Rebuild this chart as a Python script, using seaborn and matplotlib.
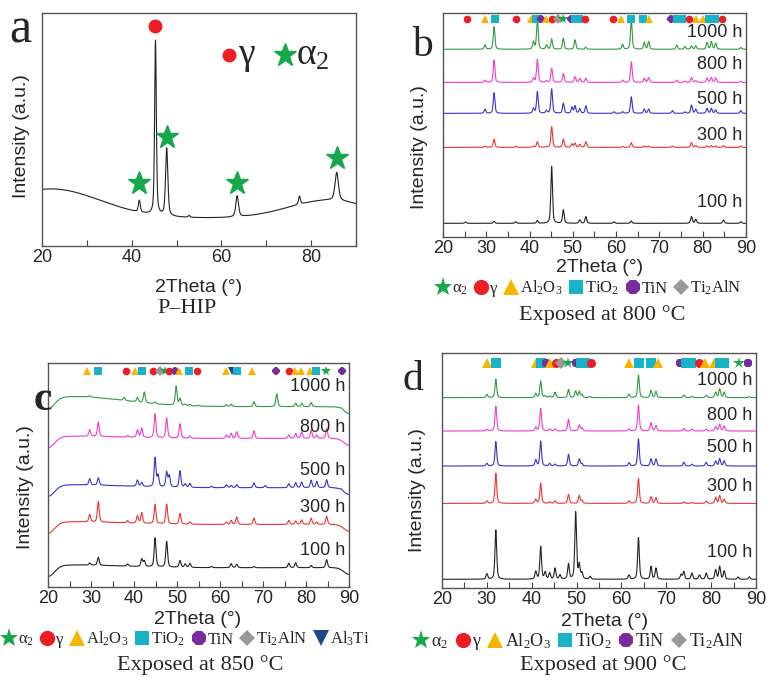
import numpy as np
import pandas as pd
import matplotlib
matplotlib.use('Agg')
import matplotlib.pyplot as plt
from matplotlib.lines import Line2D
import seaborn as sns

sns.set_style('ticks')
plt.rcParams['font.family'] = ['Liberation Sans', 'DejaVu Sans']
plt.rcParams['mathtext.fontset'] = 'custom'
plt.rcParams['mathtext.rm'] = 'Liberation Serif'
plt.rcParams['mathtext.it'] = 'Liberation Serif:italic'
SERIF = ['Liberation Serif', 'DejaVu Serif']

# ---------------- data ----------------
hours = ['1000 h', '800 h', '500 h', '300 h', '100 h']

# (a) P-HIP
a_pos = [41.7, 45.3, 47.8, 52.8, 63.5, 77.4, 85.7]
a_hgt = [5.0, 74.8, 29.0, 0.8, 9.0, 3.5, 12.0]
a_fwhm = [0.5, 0.45, 0.6, 0.5, 0.7, 0.5, 0.9]
a_bg_center = [22, 84]
a_bg_amp = [12.5, 7.7]
a_bg_sigma = [11, 9]
a_level = 12.0
a_gamma = [45.3]
a_alpha2 = [41.7, 47.8, 63.5, 85.7]

# (b) 800 C
b_pos = [25.2, 29.7, 31.8, 36.8, 40.9, 41.8, 43.9, 45.1, 47.8, 49.8, 50.5, 51.6, 53.0, 59.5,
         61.5, 63.5, 66.5, 67.5, 73.0, 74.0, 75.9, 77.4, 78.4, 81.0, 82.0, 83.0, 84.8, 88.8]
b_hgt = {
    '1000 h': [0, 1.9, 10.1, 0, 3.4, 13.0, 1.9, 4.6, 4.9, 0, 4.2, 0, 0.9, 0,
               2.2, 13.0, 3.0, 3.4, 0, 1.9, 1.2, 1.5, 1.5, 3.0, 3.4, 2.7, 0, 0.8],
    '800 h': [0, 1.0, 10.0, 0, 1.8, 10.3, 0.7, 6.3, 4.0, 0, 2.5, 1.8, 1.8, 0,
              1.0, 9.2, 1.8, 2.1, 0, 1.0, 0.6, 2.2, 0.8, 2.0, 2.2, 2.0, 0, 0.5],
    '500 h': [0, 1.8, 9.2, 0, 2.2, 9.7, 1.2, 10.9, 4.5, 2.7, 3.3, 2.0, 3.3, 0.7,
              0.7, 7.4, 1.9, 1.9, 1.2, 0, 0.6, 3.7, 1.8, 2.2, 2.2, 1.5, 0, 1.2],
    '300 h': [0, 0.6, 3.6, 0.5, 0.5, 2.5, 0.3, 9.2, 3.7, 1.5, 1.8, 1.3, 2.5, 0,
              0.4, 2.1, 0.6, 0.6, 0.6, 0, 0, 2.1, 0.8, 0.6, 0.8, 0.6, 0.8, 0.6],
    '100 h': [0.6, 0, 0.9, 0.7, 0, 1.2, 0, 25.3, 6.0, 0, 0, 1.5, 3.0, 0.7,
              0, 1.0, 0, 0, 0, 0, 0, 3.0, 1.8, 0, 0, 0, 1.5, 0.7],
}
b_level = [83.8, 69.0, 55.2, 40.0, 6.1]
b_marks = [(25.6, 'g'), (29.7, 'al2o3'), (31.9, 'tio2'), (36.9, 'g'), (40.3, 'al2o3'), (41.5, 'tio2'),
           (42.6, 'tin'), (43.7, 'al2o3'), (45.1, 'g'), (46.5, 'ti2aln'), (47.8, 'a2'), (49.5, 'tin'),
           (50.4, 'tio2'), (51.5, 'tio2'), (52.9, 'g'), (59.3, 'g'), (61.2, 'al2o3'), (63.4, 'tio2'),
           (66.3, 'tio2'), (67.6, 'al2o3'), (72.7, 'tin'), (74.1, 'tio2'), (75.3, 'tio2'), (76.9, 'g'),
           (78.4, 'al2o3'), (80.1, 'al2o3'), (81.5, 'tio2'), (82.8, 'tio2'), (84.5, 'g')]

# (c) 850 C
c_pos = [29.7, 31.7, 37.7, 38.5, 40.8, 41.8, 42.4, 44.9, 45.6, 47.6, 48.2, 49.8, 50.7, 51.9, 53.0,
         55.0, 58.0, 61.5, 62.6, 63.9, 67.9, 70.5, 73.2, 76.0, 77.6, 79.0, 81.2, 82.5, 84.8, 88.3]
c_hgt = {
    '1000 h': [0.6, 0, 1.3, 0, 2.0, 0, 4.8, 0.8, 0, 0, 0, 8.5, 3.0, 0.6, 0.6,
               0.4, 0, 0.8, 1.0, 0, 2.2, 0, 5.7, 0, 1.5, 1.5, 1.8, 0, 0, 0.5],
    '800 h': [3.0, 6.4, 0, 0.7, 3.3, 4.2, 0, 10.7, 0, 8.9, 0, 0, 6.4, 0, 1.0,
              0, 0, 1.5, 2.2, 3.0, 3.4, 0, 0, 1.5, 2.2, 3.0, 3.7, 1.5, 4.5, 0],
    '500 h': [2.8, 3.3, 0, 0, 2.8, 1.8, 0, 12.9, 5.0, 6.5, 5.0, 0, 7.3, 1.5, 1.8,
              0, 0.6, 1.3, 1.0, 1.3, 2.2, 1.0, 0, 1.8, 2.2, 2.5, 3.3, 2.8, 3.6, 0.5],
    '300 h': [3.3, 9.2, 0, 1.0, 3.3, 4.8, 0, 8.5, 0, 8.8, 0, 0, 4.8, 0, 1.0,
              0, 0, 1.0, 1.8, 3.3, 2.8, 0, 0, 1.8, 1.5, 2.0, 2.8, 1.0, 3.7, 0],
    '100 h': [1.0, 3.6, 0, 1.0, 0, 3.3, 2.5, 12.9, 0, 11.5, 0, 0, 3.0, 1.5, 1.8,
              0, 0.5, 0, 1.8, 1.5, 0.5, 0, 0, 2.0, 2.2, 0, 1.0, 0, 3.6, 0],
}
c_level = [80.5, 66.3, 44.3, 27.9, 8.6]
c_hump = [4.5, 1.0, 1.3, 1.2, 1.2]          # broad hump near 26 deg
c_edge_center = [20, 90]
c_edge_amp = [-5.0, -3.0]
c_edge_sigma = [1.5, 1.2]
c_marks = [(29.1, 'al2o3'), (31.6, 'tio2'), (38.1, 'g'), (40.2, 'al2o3'), (41.8, 'tio2'), (44.5, 'g'),
           (46.0, 'ti2aln'), (47.2, 'a2'), (48.2, 'g'), (49.5, 'tin'), (50.5, 'al2o3'), (52.7, 'tio2'),
           (54.6, 'g'), (61.4, 'al2o3'), (62.7, 'al3ti'), (63.9, 'tio2'), (67.4, 'al2o3'), (73.0, 'tin'),
           (76.0, 'g'), (77.4, 'al2o3'), (78.8, 'al2o3'), (80.9, 'al2o3'), (82.3, 'tio2'), (84.7, 'a2'),
           (88.3, 'tin')]

# (d) 900 C
d_pos = [30.0, 32.0, 40.9, 42.0, 43.0, 44.0, 45.2, 46.3, 48.2, 49.8, 50.6, 51.2, 53.0, 61.7,
         63.8, 66.6, 67.7, 73.3, 73.9, 75.7, 77.4, 78.9, 81.0, 81.9, 82.9, 86.0, 88.5]
d_hgt = {
    '1000 h': [1.4, 7.9, 1.8, 7.1, 0.7, 0.6, 2.3, 0, 3.5, 2.8, 2.6, 1.2, 0.5, 1.4,
               9.6, 3.0, 2.6, 0, 1.1, 0.6, 0, 1.0, 2.3, 3.7, 2.3, 0, 0.4],
    '800 h': [0.7, 10.6, 1.6, 9.6, 0, 0.9, 0.9, 0, 5.0, 0, 2.6, 1.2, 0, 0.9,
              11.0, 3.5, 2.3, 0, 1.1, 0.8, 0, 0.8, 1.8, 2.8, 2.1, 0, 0],
    '500 h': [1.1, 10.4, 2.6, 10.6, 0, 1.1, 0.8, 0, 5.0, 0, 3.0, 1.0, 0, 1.4,
              11.5, 3.0, 3.0, 0, 1.6, 0.8, 0, 1.6, 2.1, 3.1, 2.2, 0, 0],
    '300 h': [1.0, 12.8, 1.7, 8.5, 0, 0.7, 1.0, 0, 3.8, 0, 3.3, 1.2, 0, 1.1,
              10.6, 2.8, 2.4, 0, 0.7, 0.4, 0, 1.0, 2.6, 3.3, 1.7, 0, 0],
    '100 h': [2.3, 21.0, 3.3, 13.9, 3.0, 2.6, 4.7, 1.8, 6.5, 28.5, 6.0, 2.5, 1.2, 1.8,
              17.7, 5.4, 4.7, 2.0, 3.3, 2.6, 1.8, 2.6, 4.0, 5.4, 3.5, 1.0, 1.0],
}
d_level = [81.0, 66.8, 51.9, 36.0, 3.7]
d_marks = [(30.0, 'al2o3'), (32.0, 'tio2'), (40.9, 'al2o3'), (42.0, 'tio2'), (43.1, 'tin'), (44.0, 'al2o3'),
           (45.4, 'g'), (46.6, 'ti2aln'), (48.0, 'a2'), (49.8, 'tin'), (50.9, 'tio2'), (51.9, 'tio2'),
           (53.3, 'g'), (61.7, 'al2o3'), (64.0, 'tio2'), (66.6, 'tio2'), (68.1, 'al2o3'), (73.1, 'tin'),
           (74.5, 'tio2'), (75.6, 'tio2'), (77.2, 'g'), (78.7, 'al2o3'), (80.6, 'al2o3'), (81.9, 'tio2'),
           (82.9, 'tio2'), (86.1, 'a2'), (88.3, 'tin')]

# ---------------- styles ----------------
line_colors = ['#2f9a42', '#f23ccc', '#3535c8', '#ec3434', '#222222']
phase_style = {
    'a2': dict(marker='*', color='#17a84c'),
    'g': dict(marker='o', color='#ee1c24'),
    'al2o3': dict(marker='^', color='#f7b500'),
    'tio2': dict(marker='s', color='#17b3c9'),
    'tin': dict(marker='8', color='#7a2c9e'),
    'ti2aln': dict(marker='D', color='#999999'),
    'al3ti': dict(marker='v', color='#1b4a8c'),
}
phase_label = {'a2': 'α$_2$', 'g': 'γ', 'al2o3': 'Al$_2$O$_3$', 'tio2': 'TiO$_2$',
               'tin': 'TiN', 'ti2aln': 'Ti$_2$AlN', 'al3ti': 'Al$_3$Ti'}
legend_ms = {'a2': 14, 'g': 11, 'al2o3': 11, 'tio2': 10, 'tin': 11, 'ti2aln': 8, 'al3ti': 11}

x = np.linspace(20, 90, 2801)


def peaks(pos, hgt, fwhm):
    y = np.zeros_like(x)
    for c, h, w in zip(pos, hgt, fwhm):
        d = (x - c) / (w / 2)
        y += h * (0.5 / (1 + d ** 2) + 0.5 * np.exp(-np.log(2) * d ** 2))
    return y


def broad(centers, amps, sigmas):
    y = np.zeros_like(x)
    for c, a, s in zip(centers, amps, sigmas):
        y += a * np.exp(-(x - c) ** 2 / (2 * s ** 2))
    return y


W, H = 771, 686
fig = plt.figure(figsize=(W / 100, H / 100), dpi=100)


def add_ax(l, t, r, b):
    return fig.add_axes([l / W, 1 - b / H, (r - l) / W, (b - t) / H])


def ftext(px, py, s, **kw):
    fig.text(px / W, 1 - py / H, s, ha='center', va='center', **kw)


def style_ax(ax, major, minor):
    ax.set_xlim(20, 90)
    ax.set_ylim(0, 100)
    ax.set_yticks([])
    ax.set_xticks(major)
    ax.set_xticks(minor, minor=True)
    ax.tick_params(axis='x', which='both', direction='in', length=4, width=0.8,
                   color='#444444', labelsize=13, pad=2)
    ax.set_xlabel('')
    ax.set_ylabel('')
    for s in ax.spines.values():
        s.set_color('#555555')
        s.set_linewidth(1.0)


def draw_stack(ax, pos, hgt, level, fwhm, extra=None):
    for i, h in enumerate(hours):
        y = level[i] + peaks(pos, hgt[h], [fwhm] * len(pos))
        if extra is not None:
            y = y + extra[i]
        df = pd.DataFrame({'x': x, 'y': y})
        sns.lineplot(data=df, x='x', y='y', ax=ax, color=line_colors[i], lw=0.8, estimator=None)


def draw_marks(ax, marks, yrow, small):
    for p, k in marks:
        st = phase_style[k]
        ms = small * (1.35 if k == 'a2' else 1.0)
        ax.plot([p], [yrow], linestyle='none', marker=st['marker'], color=st['color'],
                markersize=ms, markeredgewidth=0)


def time_labels(ax, ys):
    for h, yy in zip(hours, ys):
        ax.text(0.988, yy / 100, h, transform=ax.transAxes, ha='right', va='center', fontsize=13)


def phase_legend(keys, cx, cy, size):
    handles = [Line2D([], [], linestyle='none', marker=phase_style[k]['marker'],
                      color=phase_style[k]['color'], markersize=legend_ms[k], markeredgewidth=0)
               for k in keys]
    fig.legend(handles, [phase_label[k] for k in keys], loc='center',
               bbox_to_anchor=(cx / W, 1 - cy / H), ncol=len(keys), frameon=False,
               prop={'family': SERIF, 'size': size}, handletextpad=0.05,
               columnspacing=0.3, handlelength=1.0, borderpad=0, borderaxespad=0)


# ---------------- (a) ----------------
ax_a = add_ax(42, 13, 356, 246)
y_a = a_level + broad(a_bg_center, a_bg_amp, a_bg_sigma) + peaks(a_pos, a_hgt, a_fwhm)
sns.lineplot(data=pd.DataFrame({'x': x, 'y': y_a}), x='x', y='y', ax=ax_a,
             color='#222222', lw=0.8, estimator=None)
style_ax(ax_a, [20, 40, 60, 80], [30, 50, 70, 90])
ax_a.plot(a_gamma, [94.4], linestyle='none', marker='o', color=phase_style['g']['color'], markersize=9)
ax_a.plot(a_alpha2, [26.9, 46.9, 26.9, 37.6], linestyle='none', marker='*',
          color=phase_style['a2']['color'], markersize=17)
ax_a.plot([61.7], [82], linestyle='none', marker='o', color=phase_style['g']['color'], markersize=9)
ax_a.text(63.7, 82, 'γ', fontsize=27, family=SERIF, va='center', ha='left')
ax_a.plot([74.2], [82], linestyle='none', marker='*', color=phase_style['a2']['color'], markersize=17)
ax_a.text(76.6, 82, 'α$_2$', fontsize=27, family=SERIF, va='center', ha='left')

# ---------------- (b) ----------------
ax_b = add_ax(443, 13, 746, 237)
draw_stack(ax_b, b_pos, b_hgt, b_level, 0.45)
style_ax(ax_b, range(20, 91, 10), range(25, 90, 10))
draw_marks(ax_b, b_marks, 97.2, 5.5)
time_labels(ax_b, [91.4, 76.8, 61.2, 45.5, 15.3])

# ---------------- (c) ----------------
ax_c = add_ax(48, 363, 349, 587)
edge = broad(c_edge_center, c_edge_amp, c_edge_sigma)
extra_c = [edge + broad([26], [a], [12]) for a in c_hump]
draw_stack(ax_c, c_pos, c_hgt, c_level, 0.5, extra_c)
style_ax(ax_c, range(20, 91, 10), range(25, 90, 10))
draw_marks(ax_c, c_marks, 96.6, 5.5)
time_labels(ax_c, [89.3, 71.0, 52.2, 35.7, 16.1])

# ---------------- (d) ----------------
ax_d = add_ax(442, 353, 756, 588)
draw_stack(ax_d, d_pos, d_hgt, d_level, 0.45)
style_ax(ax_d, range(20, 91, 10), range(25, 90, 10))
draw_marks(ax_d, d_marks, 95.9, 6.5)
time_labels(ax_d, [88.5, 73.6, 59.9, 43.1, 15.2])

# ---------------- texts ----------------
for px, py in [(199, 287), (600, 267), (198, 619), (605, 622)]:
    ftext(px, py, '2Theta (°)', fontsize=14)
for px, py in [(22, 136), (420, 147), (25, 487), (418, 490)]:
    ftext(px, py, 'Intensity (a.u.)', fontsize=14, rotation=90)

ftext(20, 30, 'a', fontsize=36, family=SERIF)
ftext(422, 46, 'b', fontsize=30, family=SERIF)
ftext(43, 400, 'c', fontsize=30, family=SERIF, fontweight='bold')
ftext(413, 380, 'd', fontsize=30, family=SERIF)

ftext(187, 308, 'P–HIP', fontsize=16, family=SERIF)
ftext(602, 315, 'Exposed at 800 °C', fontsize=16, family=SERIF)
ftext(200, 665, 'Exposed at 850 °C', fontsize=16, family=SERIF)
ftext(603, 665, 'Exposed at 900 °C', fontsize=16, family=SERIF)

phase_legend(['a2', 'g', 'al2o3', 'tio2', 'tin', 'ti2aln'], 588, 288, 12)
phase_legend(['a2', 'g', 'al2o3', 'tio2', 'tin', 'ti2aln', 'al3ti'], 185, 639, 12)
phase_legend(['a2', 'g', 'al2o3', 'tio2', 'tin', 'ti2aln'], 578, 641, 13)

fig.savefig('out.png', dpi=100)
